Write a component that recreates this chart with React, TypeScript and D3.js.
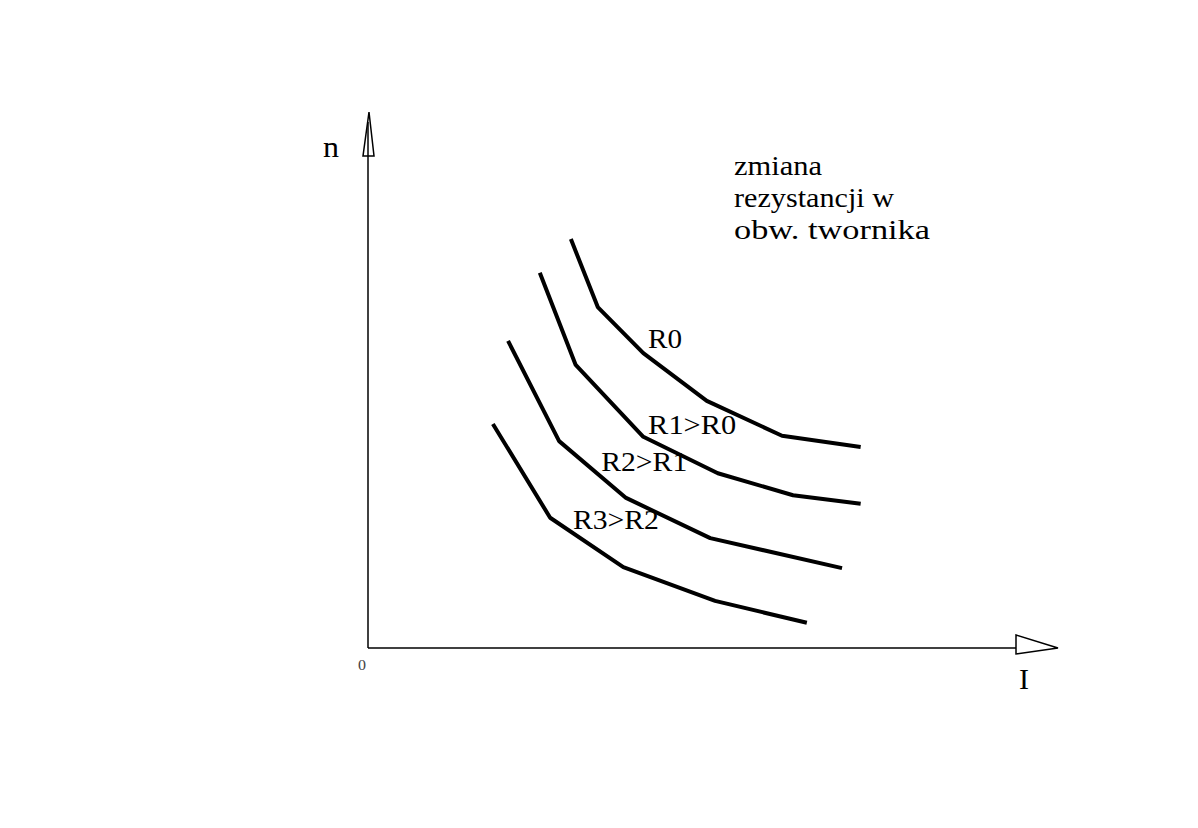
import React from "react";
import * as d3 from "d3";

type Pt = [number, number];

const curveNames = ["R0", "R1>R0", "R2>R1", "R3>R2"];

const r0: Pt[] = [[2.94, 7.63], [3.33, 6.36], [3.99, 5.5], [4.91, 4.61], [6.0, 3.96], [7.14, 3.75]];
const r1: Pt[] = [[2.49, 7.0], [3.01, 5.28], [3.99, 3.94], [5.07, 3.26], [6.16, 2.85], [7.14, 2.69]];
const r2: Pt[] = [[2.03, 5.73], [2.77, 3.86], [3.74, 2.8], [4.96, 2.05], [6.87, 1.49]];
const r3: Pt[] = [[1.81, 4.18], [2.64, 2.43], [3.7, 1.51], [5.03, 0.88], [6.36, 0.47]];

const labelPos: Pt[] = [[4.06, 5.6], [4.06, 3.99], [3.38, 3.3], [2.97, 2.22]];
const labelWidths = [34, 88, 86, 86];

const noteLines = ["zmiana", "rezystancji w", "obw. twornika"];
const noteWidths = [88, 160, 196];

const xLabel = "I";
const yLabel = "n";
const originLabel = "0";

export default function App() {
  const W = 1198, H = 828;
  const x = d3.scaleLinear().domain([0, 10]).range([368, 1058]);
  const y = d3.scaleLinear().domain([0, 10]).range([648, 112]);
  const line = d3.line<Pt>().x(d => x(d[0])).y(d => y(d[1]));
  const series = [r0, r1, r2, r3];
  const font = "'Liberation Serif', 'Times New Roman', serif";

  const x0 = x(0), y0 = y(0);
  const xEnd = x(10), yEnd = y(10);

  return (
    <svg width={W} height={H} style={{ position: "absolute", left: 0, top: 0, background: "#fff" }}>
      <rect width={W} height={H} fill="#fff" />
      {/* axes */}
      <line x1={x0} y1={y0} x2={x0} y2={yEnd + 40} stroke="#000" strokeWidth={1.5} />
      <line x1={x0} y1={y0} x2={xEnd - 40} y2={y0} stroke="#000" strokeWidth={1.5} />
      <polygon points={`${x0 + 1},${yEnd} ${x0 - 5},${yEnd + 44} ${x0 + 6},${yEnd + 44}`} fill="#fff" stroke="#000" strokeWidth={1.5} strokeLinejoin="miter" />
      <polygon points={`${xEnd},${y0} ${xEnd - 42},${y0 - 13} ${xEnd - 42},${y0 + 6}`} fill="#fff" stroke="#000" strokeWidth={1.5} />
      <line x1={x0} y1={yEnd + 10} x2={x0} y2={yEnd + 44} stroke="#000" strokeWidth={1.5} />

      {series.map((s, i) => (
        <path key={i} d={line(s) || ""} fill="none" stroke="#000" strokeWidth={4} strokeLinejoin="round" />
      ))}

      {curveNames.map((t, i) => (
        <text key={t} x={x(labelPos[i][0])} y={y(labelPos[i][1])} fontFamily={font} fontSize={27}
          textLength={labelWidths[i]} lengthAdjust="spacingAndGlyphs" fill="#000">{t}</text>
      ))}

      {noteLines.map((t, i) => (
        <text key={t} x={734} y={175 + i * 32} fontFamily={font} fontSize={27}
          textLength={noteWidths[i]} lengthAdjust="spacingAndGlyphs" fill="#000">{t}</text>
      ))}

      <text x={323} y={157} fontFamily={font} fontSize={30} textLength={16} lengthAdjust="spacingAndGlyphs" fill="#000">{yLabel}</text>
      <text x={1019} y={689} fontFamily={font} fontSize={30} fill="#000">{xLabel}</text>
      <text x={358} y={670} fontFamily={font} fontSize={14} textLength={8} lengthAdjust="spacingAndGlyphs" fill="#444">{originLabel}</text>
    </svg>
  );
}
